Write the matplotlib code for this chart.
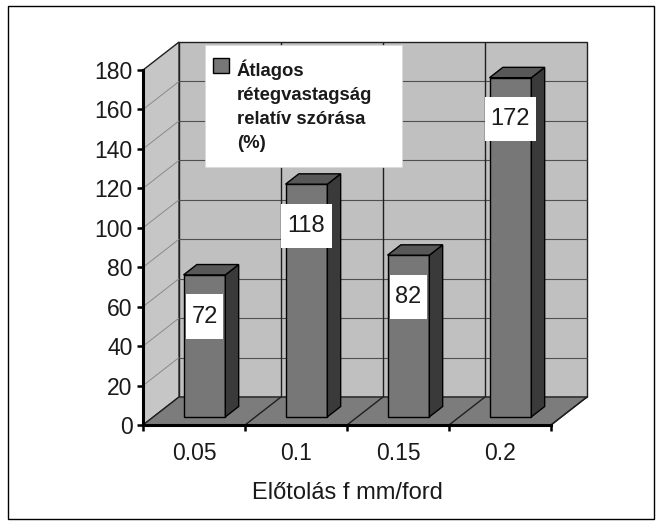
import matplotlib.pyplot as plt
from matplotlib.patches import Polygon, Rectangle

plt.rcParams['font.family'] = ['Liberation Sans', 'DejaVu Sans']

categories = ['0.05', '0.1', '0.15', '0.2']
values = [72, 118, 82, 172]
yticks = list(range(0, 181, 20))
legend_label = 'Átlagos\nrétegvastagság\nrelatív szórása\n(%)'
xlabel = 'Előtolás f mm/ford'

ymax = 180
n = len(categories)
# depth of the 3d box, in category / value units
DX, DY = 0.353, 14.2
W, H = 660, 525
TXT = '#1a1a1a'


def shift(x, y, d):
    return (x + DX * d, y + DY * d)


def line(p, q, **kw):
    ax.plot([p[0], q[0]], [p[1], q[1]], solid_capstyle='butt', **kw)


fig = plt.figure(figsize=(W / 100, H / 100), dpi=100)
ax = fig.add_axes([143 / W, 100 / H, 457 / W, 395 / H])
ax.set_xlim(0, 457 / 102)
ax.set_ylim(0, 395 / 1.972)
ax.patch.set_visible(False)

# walls and floor
ax.add_patch(Polygon([shift(0, 0, 1), shift(n, 0, 1), shift(n, ymax, 1), shift(0, ymax, 1)],
                     fc='#c0c0c0', ec='#202020', lw=1, zorder=1))
ax.add_patch(Polygon([(0, 0), (0, ymax), shift(0, ymax, 1), shift(0, 0, 1)],
                     fc='#c6c6c6', ec='#202020', lw=1, zorder=1))
ax.add_patch(Polygon([(0, 0), (n, 0), shift(n, 0, 1), shift(0, 0, 1)],
                     fc='#7c7c7c', ec='#202020', lw=1, zorder=1))

for v in yticks[1:-1]:
    line(shift(0, v, 1), shift(n, v, 1), color='#505050', lw=0.8, zorder=1.5)
    line((0, v), shift(0, v, 1), color='#8a8a8a', lw=0.7, zorder=1.5)
for i in range(1, n):
    line(shift(i, 0, 1), shift(i, ymax, 1), color='#202020', lw=1, zorder=1.5)
for i in range(1, n + 1):
    line((i, 0), shift(i, 0, 1), color='#202020', lw=1, zorder=1.5)

# bars
bw = 0.41
d0, d1 = 0.29, 0.66
for i, v in enumerate(values):
    x0 = i + 0.5 - bw / 2
    x1 = x0 + bw
    ax.add_patch(Polygon([shift(x0, 0, d0), shift(x1, 0, d0), shift(x1, v, d0), shift(x0, v, d0)],
                         fc='#777777', ec='black', lw=1, zorder=3))
    ax.add_patch(Polygon([shift(x1, 0, d0), shift(x1, 0, d1), shift(x1, v, d1), shift(x1, v, d0)],
                         fc='#3a3a3a', ec='black', lw=1, zorder=3))
    ax.add_patch(Polygon([shift(x0, v, d0), shift(x1, v, d0), shift(x1, v, d1), shift(x0, v, d1)],
                         fc='#585858', ec='black', lw=1, zorder=3))
    # value label in a white box
    cx, cy = i + 0.5 + DX * d0, v - 17
    bwid = 0.14 * len(str(v)) + 0.08
    ax.add_patch(Rectangle((cx - bwid / 2, cy - 11.2), bwid, 22.4, fc='white', ec='none', zorder=4))
    ax.text(cx, cy, str(v), ha='center', va='center', fontsize=17, color=TXT, zorder=5)

# axes
for s in ['top', 'right']:
    ax.spines[s].set_visible(False)
ax.spines['left'].set_bounds(0, ymax)
ax.spines['bottom'].set_bounds(0, n)
for s in ['left', 'bottom']:
    ax.spines[s].set_linewidth(2.2)
    ax.spines[s].set_zorder(6)
ax.set_yticks(yticks)
ax.tick_params(axis='y', length=4.5, width=1.8, pad=3, labelsize=16.5, labelcolor=TXT)
ax.set_xticks(range(n + 1))
ax.set_xticklabels([])
ax.tick_params(axis='x', which='major', length=4.5, width=1.8)
ax.set_xticks([i + 0.5 for i in range(n)], minor=True)
ax.set_xticklabels(categories, minor=True)
ax.tick_params(axis='x', which='minor', length=0, pad=12, labelsize=16.5, labelcolor=TXT)
ax.set_xlabel(xlabel, fontsize=17, color=TXT)
ax.xaxis.set_label_coords(2 / (457 / 102), -0.145)

# legend
fig.add_artist(Rectangle((205 / W, 1 - 167 / H), 197 / W, 122 / H, transform=fig.transFigure,
                         fc='white', ec='#d8d8d8', lw=0.5, zorder=10))
fig.add_artist(Rectangle((213 / W, 1 - 73 / H), 16 / W, 15 / H, transform=fig.transFigure,
                         fc='#777777', ec='black', lw=1, zorder=11))
fig.text(237 / W, 1 - 60 / H, legend_label, ha='left', va='top', fontsize=13.3,
         fontweight='bold', color=TXT, linespacing=1.52, zorder=11)

# outer frame
fig.add_artist(Rectangle((8 / W, 1 - 519 / H), 646 / W, 513 / H, transform=fig.transFigure,
                         fill=False, ec='black', lw=1, zorder=12))

fig.savefig('out.png', dpi=100)
